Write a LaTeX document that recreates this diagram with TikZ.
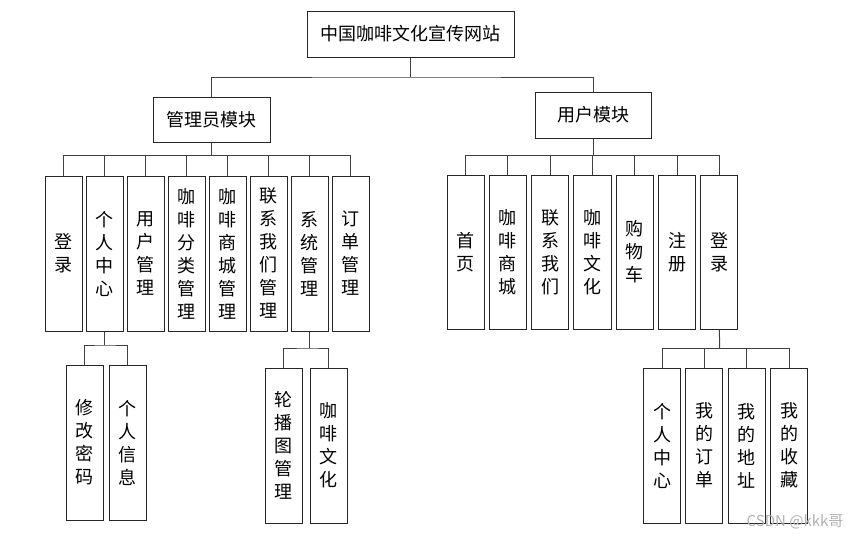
\documentclass[tikz,border=0pt]{standalone}
\usepackage{fontspec}
\setmainfont{Noto Sans CJK SC}
\usetikzlibrary{positioning}
\tikzset{
  box/.style={draw=black!85, line width=1pt, fill=white, inner sep=2pt,
    font=\fontsize{18}{23}\selectfont},
  vbox/.style={box, minimum width=37, minimum height=155, text width=20,
    align=center},
  link/.style={draw=black!75, line width=1pt},
}
\begin{document}
\begin{tikzpicture}[x=1pt,y=-1pt]
  \fill[white] (0,0) rectangle (853,538);
  \useasboundingbox (0,0) rectangle (853,538);

  % top levels
  \node[box, minimum width=207, minimum height=46] (root) at (410.5,34) {中国咖啡文化宣传网站};
  \node[box, minimum width=117, minimum height=45] (adm) at (211.5,119.5) {管理员模块};
  \node[box, minimum width=116, minimum height=46] (usr) at (593,115) {用户模块};

  \coordinate (rootbar) at (410.5,77);
  \draw[link] (root.south) -- (rootbar);
  \draw[link] (adm.north) |- (rootbar) -| (usr.north);

  % admin module
  \foreach \i/\txt in {1/{登\\录},2/{个\\人\\中\\心},3/{用\\户\\管\\理},
      4/{咖\\啡\\分\\类\\管\\理},5/{咖\\啡\\商\\城\\管\\理},
      6/{联\\系\\我\\们\\管\\理},7/{系\\统\\管\\理},8/{订\\单\\管\\理}} {
    \node[vbox] (a\i) at ({63.5+41*(\i-1)},253.5) {\txt};
  }
  \coordinate (admbar) at (211.5,155);
  \draw[link] (adm.south) -- (admbar);
  \foreach \i in {1,...,8}
    \draw[link] (a\i.north) -- (a\i.north |- admbar);
  \draw[link] (a1.north |- admbar) -- (a8.north |- admbar);

  % user module
  \foreach \i/\txt in {1/{首\\页},2/{咖\\啡\\商\\城},3/{联\\系\\我\\们},
      4/{咖\\啡\\文\\化},5/{购\\物\\车},6/{注\\册},7/{登\\录}} {
    \node[vbox, minimum height=154] (u\i) at ({465.5+42.33*(\i-1)},252) {\txt};
  }
  \coordinate (usrbar) at (593,155);
  \draw[link] (usr.south) -- (usrbar);
  \foreach \i in {1,...,7}
    \draw[link] (u\i.north) -- (u\i.north |- usrbar);
  \draw[link] (u1.north |- usrbar) -- (u7.north |- usrbar);

  % personal center
  \node[vbox] (p1) at (84.5,442.5) {修\\改\\密\\码};
  \node[vbox] (p2) at (127.5,442.5) {个\\人\\信\\息};
  \coordinate (pbar) at (104.5,345);
  \draw[link] (a2.south) -- (pbar);
  \draw[link] (p1.north) |- (pbar) -| (p2.north);

  % system management
  \node[vbox] (s1) at (283.5,445.5) {轮\\播\\图\\管\\理};
  \node[vbox] (s2) at (328.5,445.5) {咖\\啡\\文\\化};
  \coordinate (sbar) at (309.5,348);
  \draw[link] (a7.south) -- (sbar);
  \draw[link] (s1.north) |- (sbar) -| (s2.north);

  % login
  \foreach \i/\txt in {1/{个\\人\\中\\心},2/{我\\的\\订\\单},3/{我\\的\\地\\址},4/{我\\的\\收\\藏}} {
    \node[vbox] (l\i) at ({662+42.33*(\i-1)},445.5) {\txt};
  }
  \coordinate (lbar) at (719.5,348);
  \draw[link] (u7.south) -- (lbar);
  \foreach \i in {1,...,4}
    \draw[link] (l\i.north) -- (l\i.north |- lbar);
  \draw[link] (l1.north |- lbar) -- (l4.north |- lbar);

  \node[text=black!30, font=\fontsize{15}{15}\selectfont] (mark) at (795,522) {CSDN @kkk哥};
\end{tikzpicture}
\end{document}
